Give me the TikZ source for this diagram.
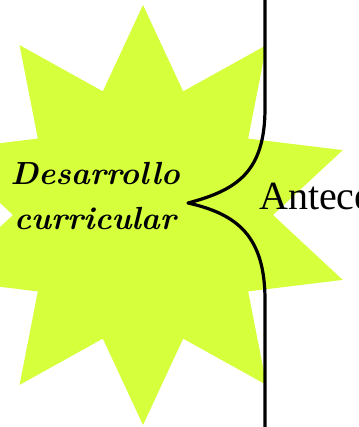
\documentclass[tikz,border=0pt]{standalone}
\usepackage{fontspec}
\newfontfamily\branchfont{Liberation Serif}
\definecolor{lime}{HTML}{D6FF3C}
\tikzset{
  star/.style={fill=lime, draw=none},
  bracestyle/.style={draw=black, line width=3.2pt, line join=round},
  titletext/.style={font=\fontsize{32}{45}\selectfont\bfseries\itshape, align=center, inner sep=0pt},
  branchtext/.style={font=\branchfont\fontsize{40}{48}\selectfont, inner sep=0pt, anchor=base west}
}
\begin{document}
\begin{tikzpicture}[x=1pt,y=-1pt]
\useasboundingbox (0,0) rectangle (358,427);
\clip (0,0) rectangle (358,427);
% star
\fill[star, shift={(143,215)}]
  (90:210) -- (108:130) -- (126:210) -- (144:130) -- (162:210) -- (180:130)
  -- (198:210) -- (216:130) -- (234:210) -- (252:130) -- (270:210) -- (288:130)
  -- (306:210) -- (324:130) -- (342:210) -- (0:130) -- (18:210) -- (36:130)
  -- (54:210) -- (72:130) -- cycle;
% title
\node[titletext] (title) at (95,196) {Desarrollo\\curricular};
% brace
\coordinate (btop) at (265,-5);
\coordinate (bup) at (265,108);
\coordinate (tip) at (188,203);
\coordinate (blow) at (265,300);
\coordinate (bbot) at (265,432);
\draw[bracestyle] (btop) -- (bup) .. controls (265,172) and (237,190) .. (tip)
  .. controls (237,214) and (265,236) .. (blow) -- (bbot);
% branch text
\node[branchtext] (branch) at (259,209) {Antece};
\end{tikzpicture}
\end{document}
